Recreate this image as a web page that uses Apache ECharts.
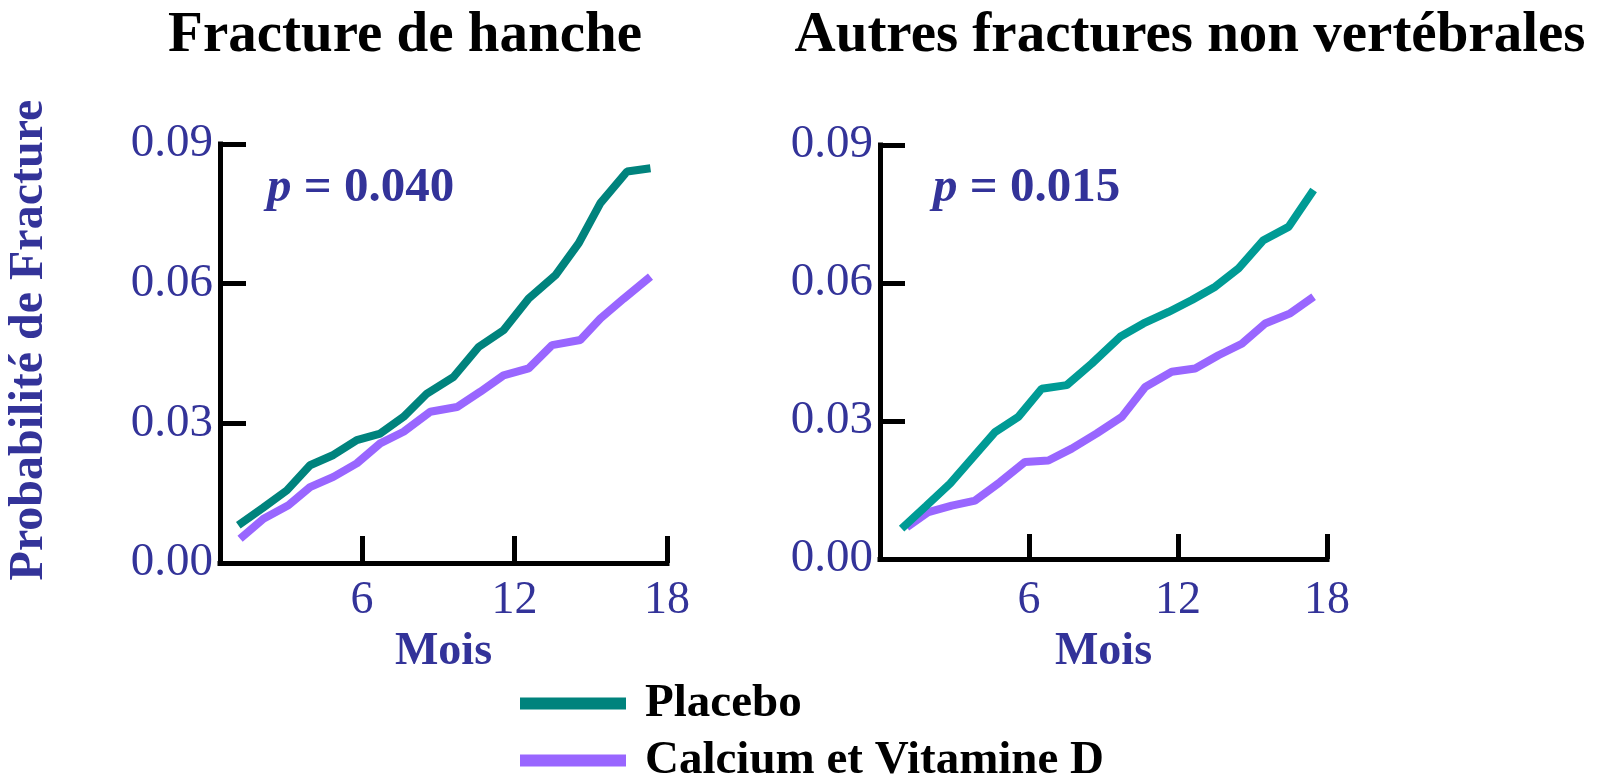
<!DOCTYPE html>
<html>
<head>
<meta charset="utf-8">
<script src="https://cdn.jsdelivr.net/npm/echarts@6/dist/echarts.min.js"></script>
<style>
html,body{margin:0;padding:0;background:#fff;}
#c{width:1598px;height:776px;}
</style>
</head>
<body>
<div id="c"></div>
<script>
// ---- data (months, probability) ----
const hipPlaceboMonths = [1.14, 2.10, 3.05, 3.96, 4.88, 5.80, 6.72, 7.64, 8.56, 9.61, 10.59, 11.57, 12.56, 13.61, 14.53, 15.38, 16.43, 17.35];
const hipPlaceboValues = [0.0081, 0.0118, 0.0156, 0.0210, 0.0232, 0.0264, 0.0278, 0.0314, 0.0364, 0.0400, 0.0464, 0.0500, 0.0568, 0.0618, 0.0687, 0.0773, 0.0841, 0.0848];
const hipCalciumMonths = [1.21, 2.13, 3.11, 3.96, 4.88, 5.80, 6.72, 7.64, 8.69, 9.74, 10.66, 11.57, 12.56, 13.48, 14.59, 15.38, 16.30, 17.35];
const hipCalciumValues = [0.0052, 0.0095, 0.0124, 0.0163, 0.0185, 0.0214, 0.0257, 0.0282, 0.0325, 0.0335, 0.0368, 0.0403, 0.0418, 0.0468, 0.0479, 0.0525, 0.0568, 0.0615];
const otherPlaceboMonths = [0.87, 1.85, 2.82, 3.76, 4.63, 5.57, 6.51, 7.52, 8.53, 9.67, 10.61, 11.62, 12.56, 13.50, 14.44, 15.44, 16.45, 17.46];
const otherPlaceboValues = [0.0066, 0.0115, 0.0164, 0.0222, 0.0276, 0.0309, 0.0370, 0.0378, 0.0425, 0.0483, 0.0512, 0.0537, 0.0563, 0.0592, 0.0632, 0.0693, 0.0722, 0.0802];
const otherCalciumMonths = [1.08, 1.95, 2.89, 3.83, 4.83, 5.84, 6.78, 7.72, 8.73, 9.74, 10.68, 11.75, 12.69, 13.63, 14.57, 15.51, 16.52, 17.46];
const otherCalciumValues = [0.0069, 0.0102, 0.0116, 0.0127, 0.0167, 0.0211, 0.0214, 0.0240, 0.0273, 0.0309, 0.0374, 0.0407, 0.0414, 0.0443, 0.0468, 0.0512, 0.0534, 0.0570];

const xTickValues = [6, 12, 18];
const yMin = 0, yMax = 0.09, yStep = 0.03;
const panelTitles = ['Fracture de hanche', 'Autres fractures non vertébrales'];
const pValues = ['0.040', '0.015'];
const seriesNames = ['Placebo', 'Calcium et Vitamine D'];
const xAxisName = 'Mois';
const yAxisName = 'Probabilité de Fracture';

// ---- styling ----
const FONT = "'Liberation Serif', 'Times New Roman', serif";
const BLUE = '#333399';
const purple = '#9966FF';
const tealLeft = '#00837D';
const tealRight = '#009B95';

function zip(xs, ys) { return xs.map((x, i) => [x, ys[i]]); }

const grids = [
  {left: 220, top: 144, width: 447, height: 419},
  {left: 880, top: 145, width: 447, height: 414}
];
const xMins = [0.42, 0];
const xTickLen = [27, 25];
const yTickLen = [26, 25];
const xLabelMargin = [15, 19];
const xNameGap = [62, 68];

function xAxisFor(i) {
  return {
    type: 'value', gridIndex: i, min: xMins[i], max: 18,
    axisLine: {show: true, onZero: false, lineStyle: {color: '#000', width: 5, cap: 'square'}},
    axisTick: {show: true, inside: true, length: xTickLen[i], customValues: xTickValues, lineStyle: {color: '#000', width: 5}},
    axisLabel: {show: true, customValues: xTickValues, margin: xLabelMargin[i], color: BLUE, fontFamily: FONT, fontSize: 46},
    splitLine: {show: false},
    name: xAxisName, nameLocation: 'middle', nameGap: xNameGap[i],
    nameTextStyle: {color: BLUE, fontFamily: FONT, fontSize: 46, fontWeight: 'bold'}
  };
}
function yAxisFor(i) {
  return {
    type: 'value', gridIndex: i, min: yMin, max: yMax, interval: yStep,
    axisLine: {show: true, lineStyle: {color: '#000', width: 5, cap: 'square'}},
    axisTick: {show: true, inside: true, length: yTickLen[i], lineStyle: {color: '#000', width: 5}},
    axisLabel: {show: true, margin: 7, color: BLUE, fontFamily: FONT, fontSize: 47,
      formatter: v => v.toFixed(2)},
    splitLine: {show: false}
  };
}
function lineSeries(name, i, data, color, z) {
  return {
    type: 'line', name: name, xAxisIndex: i, yAxisIndex: i, data: data,
    showSymbol: false, symbol: 'none', color: color, z: z,
    lineStyle: {color: color, width: 8},
    animation: false
  };
}

const option = {
  backgroundColor: '#fff',
  animation: false,
  title: [
    {text: panelTitles[0], left: 405, top: 8, textAlign: 'center', padding: 0,
     textStyle: {fontFamily: FONT, fontSize: 57, fontWeight: 'bold', color: '#000'}},
    {text: panelTitles[1], left: 1190, top: 8, textAlign: 'center', padding: 0,
     textStyle: {fontFamily: FONT, fontSize: 57, fontWeight: 'bold', color: '#000'}}
  ],
  grid: grids,
  xAxis: [xAxisFor(0), xAxisFor(1)],
  yAxis: [yAxisFor(0), yAxisFor(1)],
  legend: {
    orient: 'vertical', left: 520, top: 680, height: 160, itemWidth: 106, itemHeight: 12, itemGap: 10,
    icon: 'rect', selectedMode: false, padding: 0,
    textStyle: {fontFamily: FONT, fontSize: 47, fontWeight: 'bold', color: '#000', padding: [0, 0, 0, 14]},
    data: seriesNames
  },
  series: [
    lineSeries(seriesNames[1], 0, zip(hipCalciumMonths, hipCalciumValues), purple, 2),
    lineSeries(seriesNames[0], 0, zip(hipPlaceboMonths, hipPlaceboValues), tealLeft, 3),
    lineSeries(seriesNames[1], 1, zip(otherCalciumMonths, otherCalciumValues), purple, 2),
    lineSeries(seriesNames[0], 1, zip(otherPlaceboMonths, otherPlaceboValues), tealRight, 3)
  ],
  graphic: [
    {type: 'text', x: 30, y: 340, rotation: Math.PI / 2,
     style: {text: yAxisName, font: "bold 48px " + FONT, fill: BLUE, align: 'center', verticalAlign: 'middle'}},
    {type: 'text', x: 267, y: 188,
     style: {text: '{p|p}{n| = ' + pValues[0] + '}', fill: BLUE, verticalAlign: 'middle',
       rich: {p: {font: "italic bold 49px " + FONT, fill: BLUE}, n: {font: "bold 49px " + FONT, fill: BLUE}}}},
    {type: 'text', x: 933, y: 188,
     style: {text: '{p|p}{n| = ' + pValues[1] + '}', fill: BLUE, verticalAlign: 'middle',
       rich: {p: {font: "italic bold 49px " + FONT, fill: BLUE}, n: {font: "bold 49px " + FONT, fill: BLUE}}}}
  ]
};

const chart = echarts.init(document.getElementById('c'), null, {renderer: 'canvas'});
chart.setOption(option);
</script>
</body>
</html>
